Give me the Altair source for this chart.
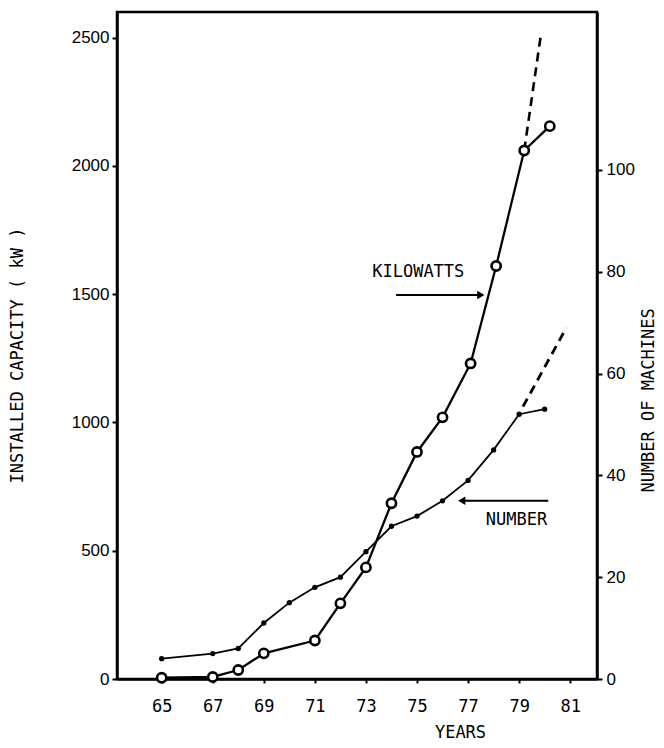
import altair as alt
import pandas as pd

# --- data ---
kw_years = [65, 67, 68, 69, 71, 72, 73, 74, 75, 76, 77.1, 78.1, 79.2, 80.2]
kw_values = [5, 8, 35, 100, 150, 295, 435, 685, 885, 1020, 1230, 1610, 2060, 2155]
kw_proj_years = [79.2, 79.85]
kw_proj_values = [2060, 2510]

num_years = [65, 67, 68, 69, 70, 71, 72, 73, 74, 75, 76, 77, 78, 79, 80]
num_values = [4, 5, 6, 11, 15, 18, 20, 25, 30, 32, 35, 39, 45, 52, 53]
num_proj_years = [79.15, 80.85]
num_proj_values = [53.5, 69]

x_ticks = [65, 67, 69, 71, 73, 75, 77, 79, 81]
kw_ticks = [0, 500, 1000, 1500, 2000, 2500]
num_ticks = [0, 20, 40, 60, 80, 100]

# annotation labels and arrows (data units)
kw_label = {"x": 75.05, "y": 1587, "text": "KILOWATTS"}
kw_arrow = {"x": 74.18, "x2": 77.5, "y": 1497}
num_label = {"x": 78.9, "y": 31.2, "text": "NUMBER"}
num_arrow = {"x": 80.14, "x2": 76.75, "y": 35}

MONO = "DejaVu Sans Mono"
SANS = "Liberation Sans"

kw_df = pd.DataFrame({"year": kw_years, "kw": kw_values})
kw_proj_df = pd.DataFrame({"year": kw_proj_years, "kw": kw_proj_values})
num_df = pd.DataFrame({"year": num_years, "n": num_values})
num_proj_df = pd.DataFrame({"year": num_proj_years, "n": num_proj_values})

xscale = alt.Scale(domain=[63.25, 82.05], nice=False, zero=False)
xaxis = alt.Axis(values=x_ticks, title="YEARS", labelFont=MONO, labelFontSize=17,
                 labelColor="black", labelPadding=15, tickSize=4, tickWidth=2,
                 tickColor="black", domainColor="black", domainWidth=2.5, grid=False,
                 titleFont=MONO, titleFontSize=17, titleFontWeight="normal", titleColor="black",
                 titleX=343, titleY=53, titleBaseline="middle", titleAlign="center")

kw_scale = alt.Scale(domain=[0, 2600], nice=False)
kw_axis = alt.Axis(values=kw_ticks, format="d", title="INSTALLED CAPACITY ( kW )", orient="left",
                   labelFont=SANS, labelFontSize=17, labelColor="black", labelPadding=3,
                   tickSize=5, tickWidth=2, tickColor="black", domainColor="black",
                   domainWidth=2.5, grid=False, titleFont=MONO, titleFontSize=17,
                   titleFontWeight="normal", titleColor="black", titleAngle=270,
                   titleX=-100, titleY=343, titleAlign="center", titleBaseline="middle")

num_scale = alt.Scale(domain=[0, 131], nice=False)
num_axis = alt.Axis(values=num_ticks, format="d", title="NUMBER OF MACHINES", orient="right",
                    labelFont=SANS, labelFontSize=17, labelColor="black", labelPadding=4,
                    tickSize=5, tickWidth=2, tickColor="black", domainColor="black",
                    domainWidth=2.5, grid=False, titleFont=MONO, titleFontSize=17,
                    titleFontWeight="normal", titleColor="black", titleAngle=270,
                    titleX=51, titleY=388, titleAlign="center", titleBaseline="middle")

X = alt.X("year:Q", scale=xscale, axis=xaxis)
Ykw = alt.Y("kw:Q", scale=kw_scale, axis=kw_axis)
Yn = alt.Y("n:Q", scale=num_scale, axis=num_axis)
Xa = alt.X("x:Q", scale=xscale, axis=xaxis)
Xa2 = alt.X("x2:Q", scale=xscale, axis=xaxis)
Ya_kw = alt.Y("y:Q", scale=kw_scale, axis=kw_axis)
Ya_n = alt.Y("y:Q", scale=num_scale, axis=num_axis)

kw_line = alt.Chart(kw_df).mark_line(color="black", strokeWidth=2.3).encode(x=X, y=Ykw)
kw_proj = alt.Chart(kw_proj_df).mark_line(color="black", strokeWidth=2.6,
                                          strokeDash=[9, 6]).encode(x=X, y=Ykw)
kw_pts = alt.Chart(kw_df).mark_point(shape="circle", size=85, filled=True, fill="white",
                                     stroke="black", strokeWidth=2.6, opacity=1).encode(x=X, y=Ykw)
kw_text = alt.Chart(pd.DataFrame([kw_label])).mark_text(
    font=MONO, fontSize=17, color="black", align="center", baseline="middle"
).encode(x=Xa, y=Ya_kw, text="text:N")
kw_arrow_line = alt.Chart(pd.DataFrame([kw_arrow])).mark_rule(color="black", strokeWidth=2).encode(
    x=Xa, x2="x2:Q", y=Ya_kw)
kw_arrow_head = alt.Chart(pd.DataFrame([kw_arrow])).mark_point(
    shape="triangle-right", size=70, filled=True, color="black", opacity=1
).encode(x=Xa2, y=Ya_kw)

kw_group = alt.layer(kw_line, kw_proj, kw_pts, kw_text, kw_arrow_line, kw_arrow_head)

num_line = alt.Chart(num_df).mark_line(color="black", strokeWidth=1.8).encode(x=X, y=Yn)
num_proj = alt.Chart(num_proj_df).mark_line(color="black", strokeWidth=2.8,
                                            strokeDash=[9, 6]).encode(x=X, y=Yn)
num_pts = alt.Chart(num_df).mark_point(shape="circle", size=28, filled=True, color="black",
                                       opacity=1).encode(x=X, y=Yn)
num_text = alt.Chart(pd.DataFrame([num_label])).mark_text(
    font=MONO, fontSize=17, color="black", align="center", baseline="middle"
).encode(x=Xa, y=Ya_n, text="text:N")
num_arrow_line = alt.Chart(pd.DataFrame([num_arrow])).mark_rule(color="black", strokeWidth=2).encode(
    x=Xa, x2="x2:Q", y=Ya_n)
num_arrow_head = alt.Chart(pd.DataFrame([num_arrow])).mark_point(
    shape="triangle-left", size=70, filled=True, color="black", opacity=1
).encode(x=Xa2, y=Ya_n)

num_group = alt.layer(num_line, num_proj, num_pts, num_text, num_arrow_line, num_arrow_head)

chart = alt.layer(kw_group, num_group).resolve_scale(y="independent").properties(
    width=480, height=667,
    padding={"left": 109, "top": 4, "right": 59, "bottom": 64},
    autosize=alt.AutoSizeParams(type="none"),
    background="white",
).configure_view(stroke="black", strokeWidth=2.5)

chart.save("out.html", embed_options={"renderer": "svg", "actions": False})
